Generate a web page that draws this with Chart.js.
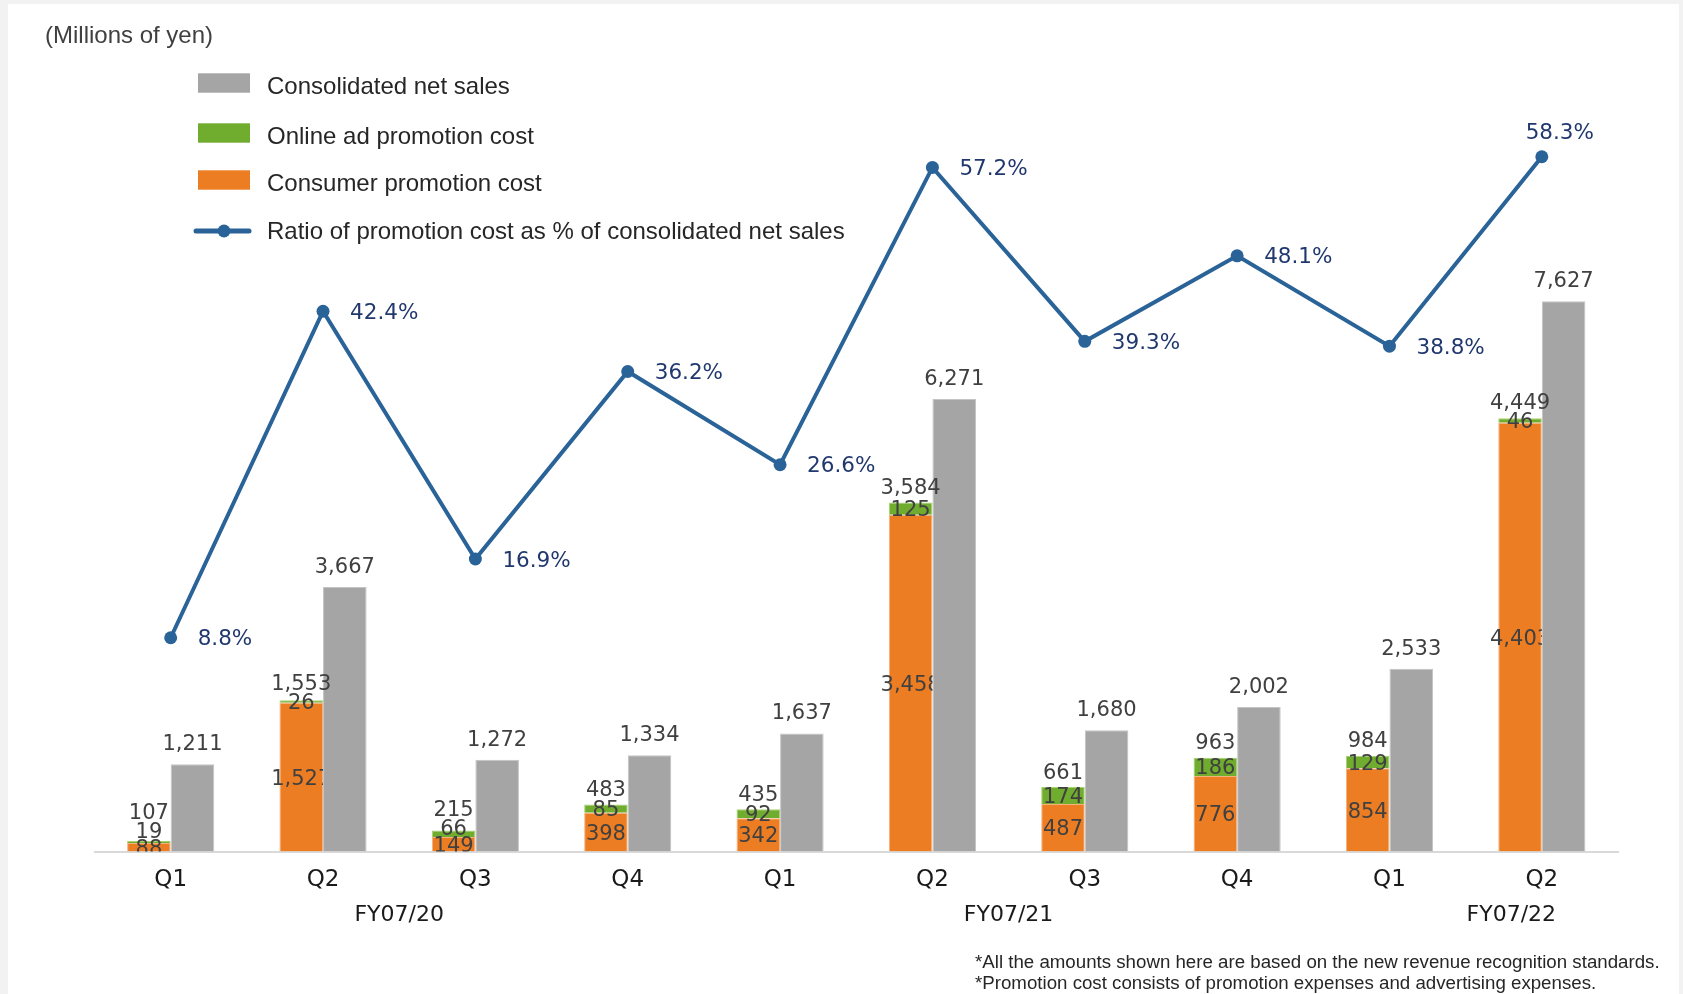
<!DOCTYPE html>
<html>
<head>
<meta charset="utf-8">
<title>Promotion cost and consolidated net sales</title>
<script src="https://cdn.jsdelivr.net/npm/chart.js@4.4.1/dist/chart.umd.min.js"></script>
<style>
  html, body { margin: 0; padding: 0; background: #f2f2f2; }
  #chart { position: absolute; left: 0; top: 0; }
</style>
</head>
<body>
<canvas id="chart" width="1683" height="994"></canvas>
<script>
// quarterly figures, millions of yen
var quarters = ["Q1", "Q2", "Q3", "Q4", "Q1", "Q2", "Q3", "Q4", "Q1", "Q2"];
var fiscalYears = ["FY07/20", "FY07/21", "FY07/22"];
var consumerPromo = [88, 1527, 149, 398, 342, 3458, 487, 776, 854, 4403];
var onlineAdPromo = [19, 26, 66, 85, 92, 125, 174, 186, 129, 46];
var promoTotal = [107, 1553, 215, 483, 435, 3584, 661, 963, 984, 4449];
var netSales = [1211, 3667, 1272, 1334, 1637, 6271, 1680, 2002, 2533, 7627];
var promoRatio = [8.8, 42.4, 16.9, 36.2, 26.6, 57.2, 39.3, 48.1, 38.8, 58.3];

var GRAY = "#a5a5a5";
var GREEN = "#70ad2f";
var ORANGE = "#ed7d22";
var BLUE = "#2a6398";
var NAVY = "#20386e";
var NUM_FONT = "21px 'DejaVu Sans'";
var PCT_FONT = "21.5px 'DejaVu Sans'";
var TEXT_FONT = "'Liberation Sans', Arial, sans-serif";

function fmt(v) {
  return v.toLocaleString("en-US");
}

// where the fiscal year captions sit, in category units
var fyCenters = [1.5, 5.5, 8.8];

var backdrop = {
  id: "backdrop",
  beforeDraw: function (chart) {
    var ctx = chart.ctx;
    ctx.save();
    ctx.fillStyle = "#f2f2f2";
    ctx.fillRect(0, 0, chart.width, chart.height);
    ctx.fillStyle = "#ffffff";
    ctx.fillRect(8, 4, 1671, 990);
    ctx.restore();
  }
};

var valueLabels = {
  id: "valueLabels",
  afterDatasetsDraw: function (chart) {
    var ctx = chart.ctx;
    var area = chart.chartArea;
    var pts = chart.getDatasetMeta(0).data;
    var orange = chart.getDatasetMeta(1).data;
    var green = chart.getDatasetMeta(2).data;
    var gray = chart.getDatasetMeta(3).data;
    var lift = 7.6; // half the digit height, centre -> baseline

    ctx.save();
    ctx.font = NUM_FONT;
    ctx.textAlign = "center";
    ctx.textBaseline = "alphabetic";
    ctx.fillStyle = "#404040";

    for (var i = 0; i < quarters.length; i++) {
      var ob = orange[i], gb = green[i], sb = gray[i];
      var right = ob.x + ob.width / 2;

      // consumer promotion: centred in the segment, tucked behind the sales bar
      var oy = (ob.y + ob.base) / 2;
      ctx.save();
      ctx.beginPath();
      ctx.rect(area.left, area.top, right - area.left, area.bottom - area.top);
      ctx.clip();
      ctx.fillText(fmt(consumerPromo[i]), ob.x, oy + lift);
      ctx.restore();

      // online ad: centred, pushed up when it would collide
      var gy = Math.min((gb.y + gb.base) / 2, oy - 17);
      ctx.fillText(fmt(onlineAdPromo[i]), gb.x, gy + lift);

      // total promotion cost above the stack
      var ty = Math.min(gb.y - 16, gy - 19);
      ctx.fillText(fmt(promoTotal[i]), gb.x, ty + lift);

      // net sales above the gray bar
      ctx.fillText(fmt(netSales[i]), sb.x, sb.y - 14);
    }

    // ratio labels
    ctx.font = PCT_FONT;
    ctx.fillStyle = NAVY;
    for (var j = 0; j < pts.length; j++) {
      var p = pts[j];
      var txt = promoRatio[j].toFixed(1) + "%";
      if (j === pts.length - 1) {
        ctx.textAlign = "center";
        ctx.fillText(txt, p.x + 18, p.y - 25 + lift);
      } else {
        ctx.textAlign = "left";
        ctx.fillText(txt, p.x + 27, p.y + lift);
      }
    }
    ctx.restore();
  },
  afterDraw: function (chart) {
    var ctx = chart.ctx;
    var xs = chart.scales.x;
    ctx.save();

    // unit caption
    ctx.fillStyle = "#404040";
    ctx.font = "24px " + TEXT_FONT;
    ctx.textAlign = "left";
    ctx.textBaseline = "middle";
    ctx.fillText("(Millions of yen)", 45, 36);

    // legend
    var rows = [
      { text: "Consolidated net sales", color: GRAY, y: 83 },
      { text: "Online ad promotion cost", color: GREEN, y: 133 },
      { text: "Consumer promotion cost", color: ORANGE, y: 180 },
      { text: "Ratio of promotion cost as % of consolidated net sales", color: BLUE, y: 231, line: true }
    ];
    ctx.font = "24px " + TEXT_FONT;
    rows.forEach(function (r) {
      if (r.line) {
        ctx.strokeStyle = r.color;
        ctx.lineWidth = 5;
        ctx.lineCap = "round";
        ctx.beginPath();
        ctx.moveTo(196, r.y);
        ctx.lineTo(249, r.y);
        ctx.stroke();
        ctx.fillStyle = r.color;
        ctx.beginPath();
        ctx.arc(224, r.y, 6.5, 0, Math.PI * 2);
        ctx.fill();
      } else {
        ctx.fillStyle = r.color;
        ctx.fillRect(198, r.y - 9.7, 52, 19.4);
      }
      ctx.fillStyle = "#262626";
      ctx.fillText(r.text, 267, r.line ? r.y + 1 : r.y + 4);
    });

    // fiscal year captions under the quarter ticks
    ctx.fillStyle = "#1a1a1a";
    ctx.font = "22px 'DejaVu Sans'";
    ctx.textAlign = "center";
    fiscalYears.forEach(function (fy, k) {
      ctx.fillText(fy, xs.getPixelForValue(fyCenters[k]), 915);
    });

    // footnotes
    ctx.fillStyle = "#262626";
    ctx.font = "18.7px " + TEXT_FONT;
    ctx.textAlign = "left";
    ctx.fillText("*All the amounts shown here are based on the new revenue recognition standards.", 975, 963);
    ctx.fillText("*Promotion cost consists of promotion expenses and advertising expenses.", 975, 984);
    ctx.restore();
  }
};

var ctx = document.getElementById("chart").getContext("2d");
var chart = new Chart(ctx, {
  type: "bar",
  data: {
    labels: quarters,
    datasets: [
      {
        type: "line",
        label: "Ratio of promotion cost as % of consolidated net sales",
        data: promoRatio,
        yAxisID: "yRatio",
        borderColor: BLUE,
        backgroundColor: BLUE,
        borderWidth: 4,
        pointRadius: 6.5,
        pointHoverRadius: 6.5,
        pointBackgroundColor: BLUE,
        pointBorderWidth: 0,
        tension: 0
      },
      {
        label: "Consumer promotion cost",
        data: consumerPromo,
        stack: "promo",
        yAxisID: "yPromo",
        backgroundColor: ORANGE,
        borderColor: "#f6b27e",
        borderWidth: 1
      },
      {
        label: "Online ad promotion cost",
        data: onlineAdPromo,
        stack: "promo",
        yAxisID: "yPromo",
        backgroundColor: GREEN,
        borderColor: "#a6d46e",
        borderWidth: 1
      },
      {
        label: "Consolidated net sales",
        data: netSales,
        stack: "sales",
        yAxisID: "y",
        backgroundColor: GRAY,
        borderColor: "#c4c4c4",
        borderWidth: 1
      }
    ]
  },
  options: {
    responsive: false,
    animation: false,
    events: [],
    layout: { padding: { top: 130, left: 94.5, right: 65, bottom: 0 } },
    datasets: {
      bar: { categoryPercentage: 0.572, barPercentage: 1 }
    },
    plugins: {
      legend: { display: false },
      tooltip: { enabled: false }
    },
    scales: {
      x: {
        stacked: true,
        offset: true,
        grid: { display: false, drawTicks: false },
        border: { display: true, color: "#d9d9d9", width: 2 },
        ticks: {
          color: "#1a1a1a",
          font: { family: "'DejaVu Sans'", size: 23 },
          padding: 15,
          maxRotation: 0,
          autoSkip: false
        },
        afterFit: function (scale) {
          scale.height = 142.5;
        }
      },
      y: {
        display: false,
        min: 0,
        max: 10000
      },
      yPromo: {
        display: false,
        stacked: true,
        min: 0,
        max: 7408
      },
      yRatio: {
        display: false,
        position: "right",
        min: -13.2,
        max: 61.05
      }
    }
  },
  plugins: [backdrop, valueLabels]
});
</script>
</body>
</html>
